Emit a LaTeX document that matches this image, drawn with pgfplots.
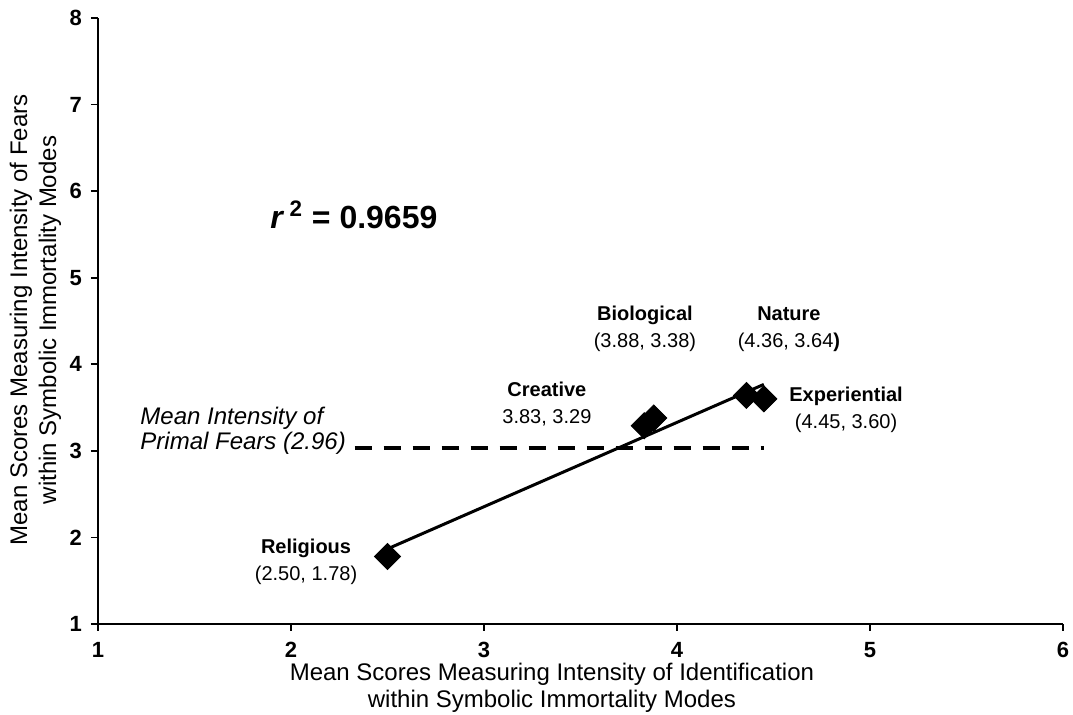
\documentclass[border=0pt]{standalone}
\usepackage{pgfplots}
\pgfplotsset{compat=1.18}
\usepackage{pgfplotstable}
\usepackage{fontspec}
\setmainfont{Liberation Sans}
\pgfplotstableread{
x y
2.50 1.78
3.83 3.29
3.88 3.38
4.36 3.64
4.45 3.60
}\modes
\begin{document}
\begin{tikzpicture}
\path[use as bounding box] (-49pt,-45.5pt) rectangle (487.5pt,312pt);
\begin{axis}[
  at={(0,0)}, anchor=south west,
  scale only axis, width=482.5pt, height=303pt,
  xmin=1, xmax=6, ymin=1, ymax=8,
  xtick={1,2,3,4,5,6}, ytick={1,2,3,4,5,6,7,8},
  axis lines*=left,
  axis line style={black, line width=1pt},
  tick align=outside, major tick length=3.5pt,
  tick style={black, line width=0.8pt},
  /pgf/number format/assume math mode=true,
  tick label style={font=\fontsize{11}{13}\selectfont\bfseries},
  xticklabel style={yshift=-2pt},
  yticklabel style={xshift=-1pt},
  clip=false,
]
\addplot[black, line width=1.5pt, no marks] table[x=x, y={create col/linear regression={y=y}}] {\modes};
\addplot[only marks, mark=square*, mark size=4.6pt, mark options={rotate=45, fill=black, draw=black}] table[x=x, y=y] {\modes};
\addplot[black, line width=2pt, dash pattern=on 8.5pt off 6pt, no marks] coordinates {(2.33,3.03) (4.45,3.03)};

\node[font=\fontsize{10}{13.5}\selectfont, align=center] at (axis cs:3.834,4.413) {\textbf{Biological}\\(3.88, 3.38)};
\node[font=\fontsize{10}{13.5}\selectfont, align=center] at (axis cs:4.580,4.408) {\textbf{Nature}\\(4.36, 3.64\textbf{)}};
\node[font=\fontsize{10}{13.5}\selectfont, align=center] at (axis cs:3.326,3.541) {\textbf{Creative}\\3.83, 3.29};
\node[font=\fontsize{10}{13.5}\selectfont, align=center] at (axis cs:4.876,3.478) {\textbf{Experiential}\\(4.45, 3.60)};
\node[font=\fontsize{10}{13.5}\selectfont, align=center] at (axis cs:2.078,1.716) {\textbf{Religious}\\(2.50, 1.78)};
\node[font=\fontsize{12}{12.5}\selectfont\itshape, align=left, anchor=west, inner sep=0pt] at (axis cs:1.218,3.235) {Mean Intensity of\\Primal Fears (2.96)};
\node[font=\fontsize{16}{18}\selectfont\bfseries, anchor=west, inner sep=0pt] at (axis cs:1.891,5.724) {\textit{r}\,\textsuperscript{2} = 0.9659};

\node[font=\fontsize{12}{13.5}\selectfont, align=center] at (axis cs:3.352,0.265) {Mean Scores Measuring Intensity of Identification\\within Symbolic Immortality Modes};
\node[font=\fontsize{12}{14.5}\selectfont, align=center, rotate=90] at (axis cs:0.676,4.512) {Mean Scores Measuring Intensity of Fears\\within Symbolic Immortality Modes};
\end{axis}
\end{tikzpicture}
\end{document}
